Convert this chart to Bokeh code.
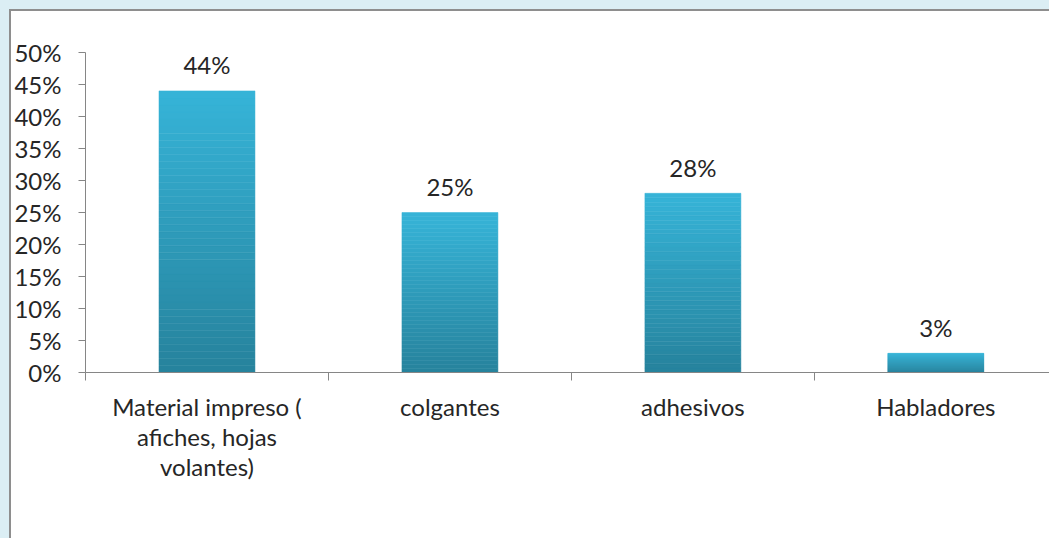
from bokeh.plotting import figure
from bokeh.models import Range1d, FixedTicker, NumeralTickFormatter, ColumnDataSource, Spacer
from bokeh.layouts import column, row
from bokeh.embed import file_html
from bokeh.resources import INLINE
from bokeh.core.properties import value

categories = ["Material impreso (\nafiches, hojas\nvolantes)", "colgantes", "adhesivos", "Habladores"]
values = [0.44, 0.25, 0.28, 0.03]
y_ticks = [0.0, 0.05, 0.10, 0.15, 0.20, 0.25, 0.30, 0.35, 0.40, 0.45, 0.50]

FONT = "Lato"
TOP_RGB = (54, 180, 216)
BOT_RGB = (38, 130, 156)
N_SLICES = 40

x_pos = [i + 0.5 for i in range(len(categories))]
labels = [f"{round(v * 100)}%" for v in values]

# gradient slices built from data values
sx, sb, st, sc = [], [], [], []
for x, v in zip(x_pos, values):
    for k in range(N_SLICES):
        t = (k + 0.5) / N_SLICES
        r = round(BOT_RGB[0] + (TOP_RGB[0] - BOT_RGB[0]) * t)
        g = round(BOT_RGB[1] + (TOP_RGB[1] - BOT_RGB[1]) * t)
        b = round(BOT_RGB[2] + (TOP_RGB[2] - BOT_RGB[2]) * t)
        sx.append(x)
        sb.append(v * k / N_SLICES)
        st.append(v * (k + 1) / N_SLICES)
        sc.append("#%02x%02x%02x" % (r, g, b))
slices = ColumnDataSource(dict(x=sx, bottom=sb, top=st, color=sc))
lab_src = ColumnDataSource(dict(x=x_pos, y=values, text=labels))

p = figure(width=1040, height=529, output_backend="svg", toolbar_location=None,
           x_range=Range1d(0, 3.976), y_range=Range1d(0, 0.5),
           min_border_left=71, min_border_top=41, min_border_bottom=168, min_border_right=0,
           background_fill_color="white", border_fill_color="white")
p.outline_line_color = None
p.grid.visible = False

p.vbar(x="x", bottom="bottom", top="top", width=0.395, source=slices,
       fill_color="color", line_color="color", line_width=0.5)

p.text(x="x", y="y", text="text", source=lab_src, text_align="center",
       text_baseline="alphabetic", y_offset=-26, text_font=value(FONT),
       text_font_size="24px", text_color="#262626")

ax = p.xaxis[0]
ax.ticker = FixedTicker(ticks=x_pos, minor_ticks=[0, 1, 2, 3, 4])
ax.major_label_overrides = {x: c for x, c in zip(x_pos, categories)}
ax.major_tick_out = 0
ax.major_tick_in = 0
ax.minor_tick_out = 8
ax.minor_tick_in = 0
ax.axis_line_color = "#868686"
ax.minor_tick_line_color = "#868686"
ax.major_label_text_font = FONT
ax.major_label_text_font_size = "24px"
ax.major_label_text_color = "#262626"
ax.major_label_text_line_height = 1.05
ax.major_label_standoff = 11

ay = p.yaxis[0]
ay.ticker = FixedTicker(ticks=y_ticks, minor_ticks=[])
ay.formatter = NumeralTickFormatter(format="0%")
ay.major_tick_out = 7
ay.major_tick_in = 0
ay.axis_line_color = "#868686"
ay.major_tick_line_color = "#868686"
ay.major_label_text_font = FONT
ay.major_label_text_font_size = "24px"
ay.major_label_text_color = "#262626"
ay.major_label_standoff = 17

p.styles = {"border-top": "2px solid #8e8e8e", "border-left": "2px solid #8e8e8e",
            "box-sizing": "border-box", "background-color": "white"}

layout = column(Spacer(width=1049, height=9),
                row(Spacer(width=9, height=529), p),
                styles={"background-color": "#dbeef4"})

open("out.html", "w").write(file_html(layout, INLINE))
